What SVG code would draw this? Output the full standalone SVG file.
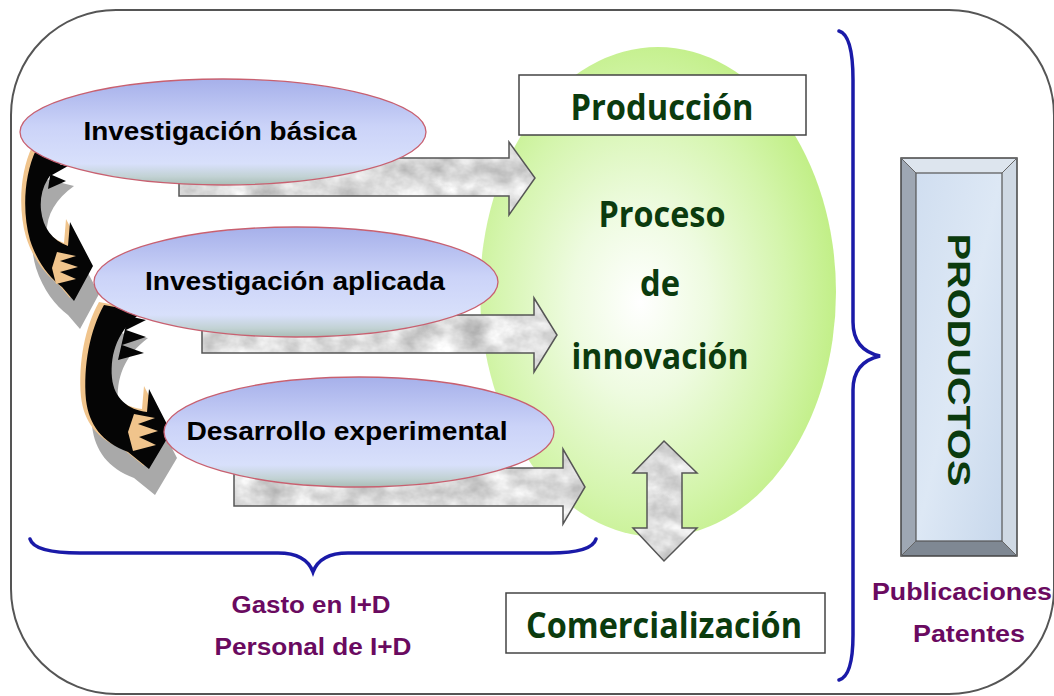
<svg xmlns="http://www.w3.org/2000/svg" width="1054" height="696" viewBox="0 0 1054 696">
<defs>
<style>
.frame{fill:#fff;stroke:#555;stroke-width:2}
.ell{fill:url(#ellG);stroke:#c86070;stroke-width:1.3}
.etxt{font-family:"Liberation Sans",Arial,sans-serif;font-weight:bold;font-size:26px;fill:#000;text-anchor:middle}
.gtxt{font-family:"Open Sans","DejaVu Sans",sans-serif;font-weight:bold;font-size:36px;fill:#0b3b0e;text-anchor:middle}
.ptxt{font-family:"Liberation Sans",Arial,sans-serif;font-weight:bold;font-size:23px;fill:#6a0a60;text-anchor:middle}
.box{fill:#fff;stroke:#444;stroke-width:1.5}
.gfill{fill:#000;filter:url(#marble)}
.gline{fill:none;stroke:#555;stroke-width:1.5}
.brace{fill:none;stroke:#1a1aa8;stroke-width:3.5;stroke-linecap:round}
.blk{fill:#050505}
.tan{fill:#f0c48c}
.shd{fill:#9a9a9a;opacity:0.85}
</style>
<filter id="marble" x="0" y="0" width="1" height="1" color-interpolation-filters="sRGB">
<feTurbulence type="fractalNoise" baseFrequency="0.035 0.05" numOctaves="4" seed="3" result="n"/>
<feColorMatrix in="n" type="matrix" values="0.4 0 0 0 0.66  0.4 0 0 0 0.66  0.4 0 0 0 0.66  0 0 0 0 1" result="g"/>
<feComposite in="g" in2="SourceAlpha" operator="in"/>
</filter>
<linearGradient id="ellG" x1="0" y1="0" x2="0" y2="1">
<stop offset="0" stop-color="#a6b0ea"/>
<stop offset="0.45" stop-color="#cbd3f8"/>
<stop offset="0.8" stop-color="#d8e0fb"/>
<stop offset="0.92" stop-color="#c2d2d4"/>
<stop offset="1" stop-color="#a9bdb6"/>
</linearGradient>
<radialGradient id="greenG" cx="0.45" cy="0.52" r="0.55">
<stop offset="0" stop-color="#ffffff"/>
<stop offset="0.35" stop-color="#eefbe0"/>
<stop offset="0.75" stop-color="#d4f5ac"/>
<stop offset="1" stop-color="#c2ef88"/>
</radialGradient>
<linearGradient id="prodG" x1="0" y1="0" x2="1" y2="1">
<stop offset="0" stop-color="#d0def0"/>
<stop offset="0.5" stop-color="#dde8f5"/>
<stop offset="1" stop-color="#c8d8ec"/>
</linearGradient>
<path id="a1" d="M36 150 C24 175 22 212 30 240 C37 262 50 278 62 287 L74 301 L93 266 L70 222 L68 246 C52 240 43 228 41 210 C39 190 48 172 68 158 Z"/>
<path id="a2" d="M104 305 C90 330 83 365 86 400 C89 425 102 442 128 452 L149 469 L171 432 L149 389 L147 412 C128 410 114 398 112 378 C110 352 118 330 142 312 Z"/>
<path id="g1" d="M179 158 L509 158 L509 142 L535 178 L509 215 L509 196 L179 196 Z"/>
<path id="g2" d="M202 315 L534 315 L534 298 L557 335 L534 372 L534 353 L202 353 Z"/>
<path id="g3" d="M234 468 L563 468 L563 449 L585 487 L563 524 L563 506 L234 506 Z"/>
<path id="g4" d="M664 441 L697 473 L682 473 L682 528 L697 528 L664 561 L633 528 L647 528 L647 473 L633 473 Z"/>
</defs>

<g id="frame">
<rect class="frame" x="11" y="10" width="1043" height="684" rx="105" ry="105"/>
</g>

<g id="proceso-innovacion">
<ellipse cx="658" cy="292" rx="178" ry="245" fill="url(#greenG)"/>
<text class="gtxt" x="662" y="227" textLength="127" lengthAdjust="spacingAndGlyphs">Proceso</text>
<text class="gtxt" x="660" y="296" textLength="40" lengthAdjust="spacingAndGlyphs">de</text>
<text class="gtxt" x="660" y="369" textLength="177" lengthAdjust="spacingAndGlyphs">innovación</text>
</g>

<g id="connectors">
<use href="#g1" class="gfill"/><use href="#g1" class="gline"/>
<use href="#g2" class="gfill"/><use href="#g2" class="gline"/>
<use href="#g3" class="gfill"/><use href="#g3" class="gline"/>
<use href="#g4" class="gfill"/><use href="#g4" class="gline"/>

<g id="curve-arrow-1">
<use href="#a1" class="shd" transform="translate(6,28)"/>
<use href="#a1" class="tan" transform="translate(-4,-3)"/>
<use href="#a1" class="blk"/>
<polygon class="blk" points="52,163 68,166 52,175 66,181 48,189"/>
<polygon class="tan" points="57,252 76,256 60,261 78,267 60,272 76,279 56,284 52,268"/>
</g>

<g id="curve-arrow-2">
<use href="#a2" class="shd" transform="translate(6,26)"/>
<use href="#a2" class="tan" transform="translate(-5,-3)"/>
<use href="#a2" class="blk"/>
<polygon class="blk" points="128,316 146,320 126,330 146,337 122,345 144,353 118,360"/>
<polygon class="tan" points="134,414 155,418 138,424 158,431 139,437 156,445 133,451 128,432"/>
</g>
</g>

<g id="investigacion-basica">
<ellipse class="ell" cx="223" cy="132" rx="203" ry="53"/>
<text class="etxt" x="220" y="140" textLength="273" lengthAdjust="spacingAndGlyphs">Investigación básica</text>
</g>

<g id="investigacion-aplicada">
<ellipse class="ell" cx="296" cy="282" rx="202" ry="55"/>
<text class="etxt" x="295" y="290" textLength="300" lengthAdjust="spacingAndGlyphs">Investigación aplicada</text>
</g>

<g id="desarrollo-experimental">
<ellipse class="ell" cx="359" cy="432" rx="195" ry="55"/>
<text class="etxt" x="347" y="440" textLength="321" lengthAdjust="spacingAndGlyphs">Desarrollo experimental</text>
</g>

<g id="produccion">
<rect class="box" x="519" y="75" width="287" height="60"/>
<text class="gtxt" x="662" y="120" textLength="183" lengthAdjust="spacingAndGlyphs">Producción</text>
</g>

<g id="comercializacion">
<rect class="box" x="506" y="593" width="319" height="60"/>
<text class="gtxt" x="664" y="638" textLength="276" lengthAdjust="spacingAndGlyphs">Comercialización</text>
</g>

<g id="productos">
<rect x="901" y="158" width="116" height="398" fill="#b8c2cf"/>
<polygon points="901,158 1017,158 1002,173 916,173" fill="#dde5ee"/>
<polygon points="1017,158 1017,556 1002,541 1002,173" fill="#cfd9e4"/>
<polygon points="901,158 916,173 916,541 901,556" fill="#9ea7b3"/>
<polygon points="901,556 916,541 1002,541 1017,556" fill="#7f8893"/>
<rect x="916" y="173" width="86" height="368" fill="url(#prodG)" stroke="#555" stroke-width="1.2"/>
<rect x="901" y="158" width="116" height="398" fill="none" stroke="#444" stroke-width="1.5"/>
<line x1="901" y1="158" x2="916" y2="173" stroke="#666" stroke-width="1"/>
<line x1="1017" y1="158" x2="1002" y2="173" stroke="#666" stroke-width="1"/>
<line x1="901" y1="556" x2="916" y2="541" stroke="#666" stroke-width="1"/>
<line x1="1017" y1="556" x2="1002" y2="541" stroke="#666" stroke-width="1"/>
<text transform="translate(948,360) rotate(90)" font-family="Liberation Sans, Arial, sans-serif" font-weight="bold" font-size="31" fill="#0b3b0e" text-anchor="middle" textLength="253" lengthAdjust="spacingAndGlyphs">PRODUCTOS</text>
</g>

<g id="brace-left">
<path class="brace" d="M30 539 Q34 553 80 553 L278 553 Q306 553 313 572 Q320 553 348 553 L550 553 Q592 553 596 539"/>
</g>

<g id="brace-right">
<path class="brace" d="M839 31 Q853 35 853 80 L853 322 Q853 350 880 356 Q853 362 853 390 L853 635 Q853 676 839 680"/>
</g>

<g id="label-gasto">
<text class="ptxt" x="311" y="613" textLength="159" lengthAdjust="spacingAndGlyphs">Gasto en I+D</text>
<text class="ptxt" x="313" y="655" textLength="197" lengthAdjust="spacingAndGlyphs">Personal de I+D</text>
</g>

<g id="label-publicaciones">
<text class="ptxt" x="962" y="600" textLength="180" lengthAdjust="spacingAndGlyphs">Publicaciones</text>
<text class="ptxt" x="969" y="642" textLength="112" lengthAdjust="spacingAndGlyphs">Patentes</text>
</g>
</svg>
